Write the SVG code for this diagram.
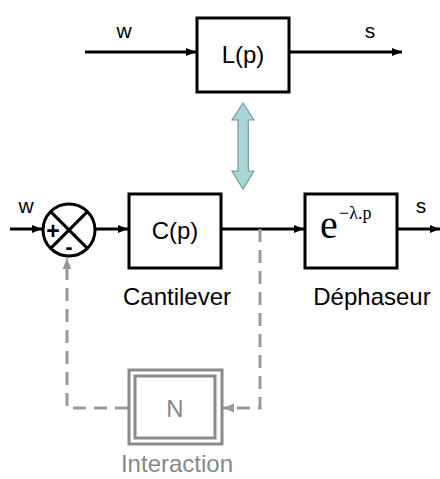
<svg xmlns="http://www.w3.org/2000/svg" width="440" height="479" viewBox="0 0 440 479">
<defs>
<style>
.box{fill:#fff;stroke:#000;stroke-width:3}
.ln{fill:none;stroke:#000;stroke-width:3}
.dash{fill:none;stroke:#999;stroke-width:3;stroke-dasharray:13 8}
.t{font-family:"Liberation Sans",Arial,sans-serif;font-size:24px;fill:#000;text-anchor:middle}
.sm{font-family:"Liberation Sans",Arial,sans-serif;font-size:21px;fill:#000;text-anchor:middle}
.g{fill:#888}
.gbox{fill:#fff;stroke:#8a8a8a;stroke-width:3}
</style>
<marker id="ah" viewBox="0 0 10 10" refX="10" refY="5" markerWidth="10" markerHeight="10" markerUnits="userSpaceOnUse" orient="auto">
<path d="M0,1 L10,5 L0,9 Z" fill="#000"/>
</marker>
<marker id="gh" viewBox="0 0 10 10" refX="10" refY="5" markerWidth="11" markerHeight="11" markerUnits="userSpaceOnUse" orient="auto">
<path d="M0,1 L10,5 L0,9 Z" fill="#999"/>
</marker>
</defs>
<rect width="440" height="479" fill="#fff"/>

<g id="connectors">
<line class="ln" x1="85" y1="52" x2="196" y2="52" marker-end="url(#ah)"/>
<line class="ln" x1="289" y1="52" x2="402" y2="52" marker-end="url(#ah)"/>
<line class="ln" x1="10" y1="229" x2="42" y2="229" marker-end="url(#ah)"/>
<line class="ln" x1="95" y1="229" x2="128" y2="229" marker-end="url(#ah)"/>
<line class="ln" x1="221" y1="229" x2="304" y2="229" marker-end="url(#ah)"/>
<line class="ln" x1="397" y1="229" x2="440" y2="229" marker-end="url(#ah)"/>
<polyline class="dash" points="260,229 260,408 223,408" marker-end="url(#gh)"/>
<polyline class="dash" points="128,408 67,408 67,258" marker-end="url(#gh)"/>
<path d="M243,103 L254,120 L248.3,120 L248.3,171 L254,171 L243,189 L232,171 L238,171 L238,120 L232,120 Z" fill="#a7d5d8" stroke="#7a9a9a" stroke-width="1.2"/>
<text class="sm" x="124" y="38">w</text>
<text class="sm" x="370" y="38">s</text>
<text class="sm" x="26" y="213">w</text>
<text class="sm" x="421" y="213">s</text>
</g>

<g id="L">
<rect class="box" x="197" y="18" width="92" height="74"/>
<text class="t" x="243" y="63">L(p)</text>
</g>

<g id="sum">
<circle cx="69" cy="230" r="26" fill="#fff" stroke="#000" stroke-width="3"/>
<line class="ln" x1="50.6" y1="211.6" x2="87.4" y2="248.4"/>
<line class="ln" x1="87.4" y1="211.6" x2="50.6" y2="248.4"/>
<text x="53" y="239" font-family="'Liberation Sans',Arial,sans-serif" font-size="23" font-weight="bold" text-anchor="middle">+</text>
<text x="69" y="254" font-family="'Liberation Sans',Arial,sans-serif" font-size="22" font-weight="bold" text-anchor="middle">-</text>
</g>

<g id="C">
<rect class="box" x="129" y="194" width="92" height="74"/>
<text class="t" x="175" y="239">C(p)</text>
<text class="t" x="177" y="305">Cantilever</text>
</g>

<g id="D">
<rect class="box" x="305" y="194" width="92" height="74"/>
<text x="329" y="238" font-family="'Liberation Serif','Times New Roman',serif" font-size="40" text-anchor="middle">e</text>
<text x="339" y="219" font-family="'Liberation Serif','Times New Roman',serif" font-size="18">−λ.p</text>
<text class="t" x="372" y="305">Déphaseur</text>
</g>

<g id="N">
<rect class="gbox" x="129" y="370" width="93" height="74"/>
<rect class="gbox" x="135" y="376" width="80" height="62" stroke-width="2.5"/>
<text class="t g" x="175" y="417" font-size="25">N</text>
<text class="t g" x="177" y="472">Interaction</text>
</g>
</svg>
